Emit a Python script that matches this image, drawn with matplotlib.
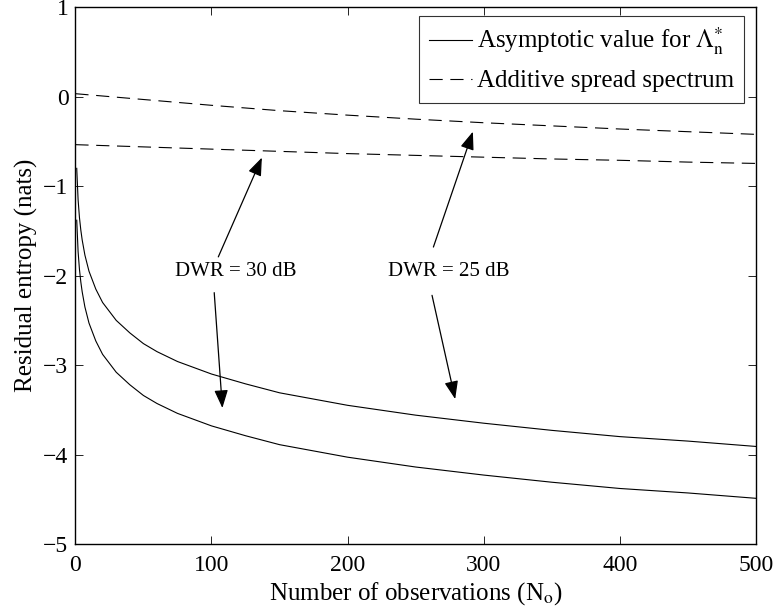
import matplotlib
matplotlib.use('Agg')
import matplotlib.pyplot as plt
import numpy as np

# Data
N_SOLID = [1, 2, 3, 4, 5, 7, 10, 15, 20, 30, 40, 50, 60, 75, 100, 125, 150,
           200, 250, 300, 350, 400, 450, 500]
ASYM_25DB = [-0.80, -1.15, -1.35, -1.49, -1.60, -1.77, -1.95, -2.15, -2.30,
             -2.50, -2.64, -2.76, -2.85, -2.96, -3.10, -3.21, -3.31,
             -3.45, -3.56, -3.65, -3.73, -3.80, -3.85, -3.91]
ASYM_30DB = [-1.38, -1.73, -1.93, -2.07, -2.18, -2.35, -2.53, -2.73, -2.88,
             -3.08, -3.22, -3.34, -3.43, -3.54, -3.68, -3.79, -3.89,
             -4.03, -4.14, -4.23, -4.31, -4.38, -4.43, -4.49]

N_DASHED = [0, 50, 100, 150, 200, 250, 300, 350, 400, 450, 500]
SS_25DB = [0.035, -0.03, -0.095, -0.155, -0.205, -0.25, -0.29, -0.325,
           -0.36, -0.39, -0.42]
SS_30DB = [-0.535, -0.56, -0.585, -0.61, -0.635, -0.655, -0.675, -0.695,
           -0.71, -0.73, -0.745]

X_TICKS = [0, 100, 200, 300, 400, 500]
Y_TICKS = [1, 0, -1, -2, -3, -4, -5]

# Annotations: label, text position, then (tail, tip) for each arrow
ANNOTATIONS = [
    ('DWR = 30 dB', (118, -1.95),
     [((105, -1.79), (137, -0.68)), ((102, -2.19), (108, -3.48))]),
    ('DWR = 25 dB', (274, -1.95),
     [((263, -1.68), (292, -0.39)), ((262, -2.22), (279, -3.38))]),
]

FONT = 'Liberation Serif'
TICK_SIZE = 17
LABEL_SIZE = 18


def main():
    plt.rcParams['font.family'] = [FONT, 'DejaVu Serif']
    plt.rcParams['mathtext.fontset'] = 'stix'
    plt.rcParams['lines.scale_dashes'] = False

    fig = plt.figure(figsize=(7.77, 6.16), dpi=100)
    ax = fig.add_axes([0.097, 0.117, 0.876, 0.871])

    ax.plot(N_SOLID, ASYM_25DB, color='black', lw=0.8,
            label=r'Asymptotic value for $\Lambda_{\rm n}^{*}$')
    ax.plot(N_SOLID, ASYM_30DB, color='black', lw=0.8)
    ax.plot(N_DASHED, SS_25DB, color='black', lw=0.8, dashes=(9.5, 5.5),
            label='Additive spread spectrum')
    ax.plot(N_DASHED, SS_30DB, color='black', lw=0.8, dashes=(9.5, 5.5))

    arrow = dict(arrowstyle='-|>,head_length=1.1,head_width=0.42',
                 color='black', lw=0.9, shrinkA=0, shrinkB=0)
    for label, txt, arrows in ANNOTATIONS:
        ax.text(txt[0], txt[1], label, ha='center', va='center',
                fontsize=15)
        for tail, tip in arrows:
            ax.annotate('', xy=tip, xytext=tail, arrowprops=arrow)

    ax.set_xlim(0, 500)
    ax.set_ylim(-5, 1)
    ax.set_xticks(X_TICKS)
    ax.set_yticks(Y_TICKS)
    ax.tick_params(axis='both', direction='in', top=True, right=True,
                   length=6, width=0.6, labelsize=TICK_SIZE)
    ax.tick_params(axis='x', pad=8)
    ax.tick_params(axis='y', pad=5)
    for side in ax.spines.values():
        side.set_linewidth(1.0)

    ax.set_xlabel(r'Number of observations (N$_{\rm o}$)', fontsize=LABEL_SIZE,
                  labelpad=3)
    ax.set_ylabel('Residual entropy (nats)', fontsize=LABEL_SIZE, labelpad=4)

    leg = ax.legend(loc='upper right', fontsize=LABEL_SIZE, frameon=True,
                    fancybox=False, edgecolor='black', handlelength=1.7,
                    bbox_to_anchor=(744 / 777, 1 - 16 / 616),
                    bbox_transform=fig.transFigure, borderaxespad=0,
                    borderpad=0.4, labelspacing=0.5, handletextpad=0.2)
    leg.get_frame().set_linewidth(0.8)

    fig.savefig('out.png', dpi=100)


if __name__ == '__main__':
    main()
